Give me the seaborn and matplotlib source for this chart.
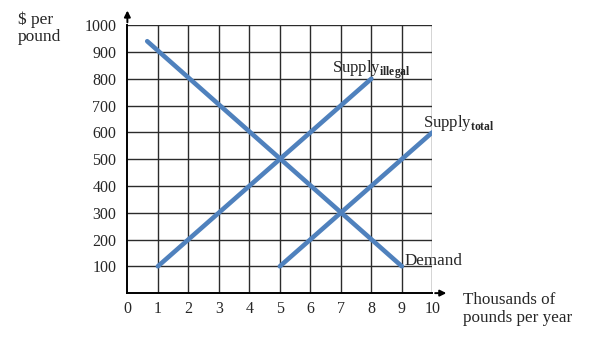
import pandas as pd
import matplotlib
matplotlib.use("Agg")
import matplotlib.pyplot as plt
import seaborn as sns

# curve endpoints
demand_x = [0.65, 9]
demand_y = [940, 100]
illegal_x = [1, 8]
illegal_y = [100, 800]
total_x = [5, 10]
total_y = [100, 600]

x_ticks = list(range(0, 11))
y_ticks = list(range(100, 1001, 100))

sns.set_style("white")
plt.rcParams['font.family'] = ['Liberation Serif', 'DejaVu Serif']
plt.rcParams['mathtext.fontset'] = 'custom'
plt.rcParams['mathtext.rm'] = 'Liberation Serif'
plt.rcParams['mathtext.bf'] = 'Liberation Serif:bold'

df = pd.concat([
    pd.DataFrame({'q': demand_x, 'p': demand_y, 'curve': 'Demand'}),
    pd.DataFrame({'q': illegal_x, 'p': illegal_y, 'curve': 'Illegal'}),
    pd.DataFrame({'q': total_x, 'p': total_y, 'curve': 'Total'}),
])

fig = plt.figure(figsize=(5.98, 3.54), dpi=100)
ax = fig.add_axes([0.213, 0.172, 0.510, 0.757])

grid_c = '#2b2b2b'
for x in x_ticks[1:]:
    ax.axvline(x, color=grid_c, lw=1.0, zorder=1)
for y in y_ticks:
    ax.axhline(y, color=grid_c, lw=1.0, zorder=1)

sns.lineplot(data=df, x='q', y='p', units='curve', estimator=None, sort=False,
             color='#4F81BD', lw=3.3, ax=ax, zorder=3, legend=False)

ax.set_xlim(0, 10)
ax.set_ylim(0, 1000)
ax.set_xticks(x_ticks)
ax.set_yticks(y_ticks)
ax.set_xlabel('')
ax.set_ylabel('')
ax.tick_params(axis='both', length=0, labelsize=11.5)
ax.tick_params(axis='y', pad=8)
ax.tick_params(axis='x', pad=6)

for s in ['top', 'right']:
    ax.spines[s].set_visible(False)
for s in ['left', 'bottom']:
    ax.spines[s].set_color('black')
    ax.spines[s].set_linewidth(1.4)

# axis arrows
ax.annotate('', xy=(0, 1.065), xytext=(0, 1.0), xycoords='axes fraction',
            arrowprops=dict(arrowstyle='-|>', color='black', lw=1.4, mutation_scale=9),
            annotation_clip=False)
ax.annotate('', xy=(1.055, 0), xytext=(1.0, 0), xycoords='axes fraction',
            arrowprops=dict(arrowstyle='-|>', color='black', lw=1.4, mutation_scale=9),
            annotation_clip=False)

ax.text(6.7, 822, r'Supply$_{\mathbf{illegal}}$', fontsize=12, ha='left', va='baseline')
ax.text(9.7, 620, r'Supply$_{\mathbf{total}}$', fontsize=12, ha='left', va='baseline',
        clip_on=False)
ax.text(9.1, 105, 'Demand', fontsize=12.3, ha='left', va='baseline', clip_on=False)

fig.text(18 / 598, 1 - 11 / 354, r'\$ per' + '\npound', fontsize=12.5,
         ha='left', va='top', linespacing=1.1)
fig.text(463 / 598, 1 - 292 / 354, 'Thousands of\npounds per year', fontsize=12.3,
         ha='left', va='top', linespacing=1.2)

fig.savefig('out.png', dpi=100)
